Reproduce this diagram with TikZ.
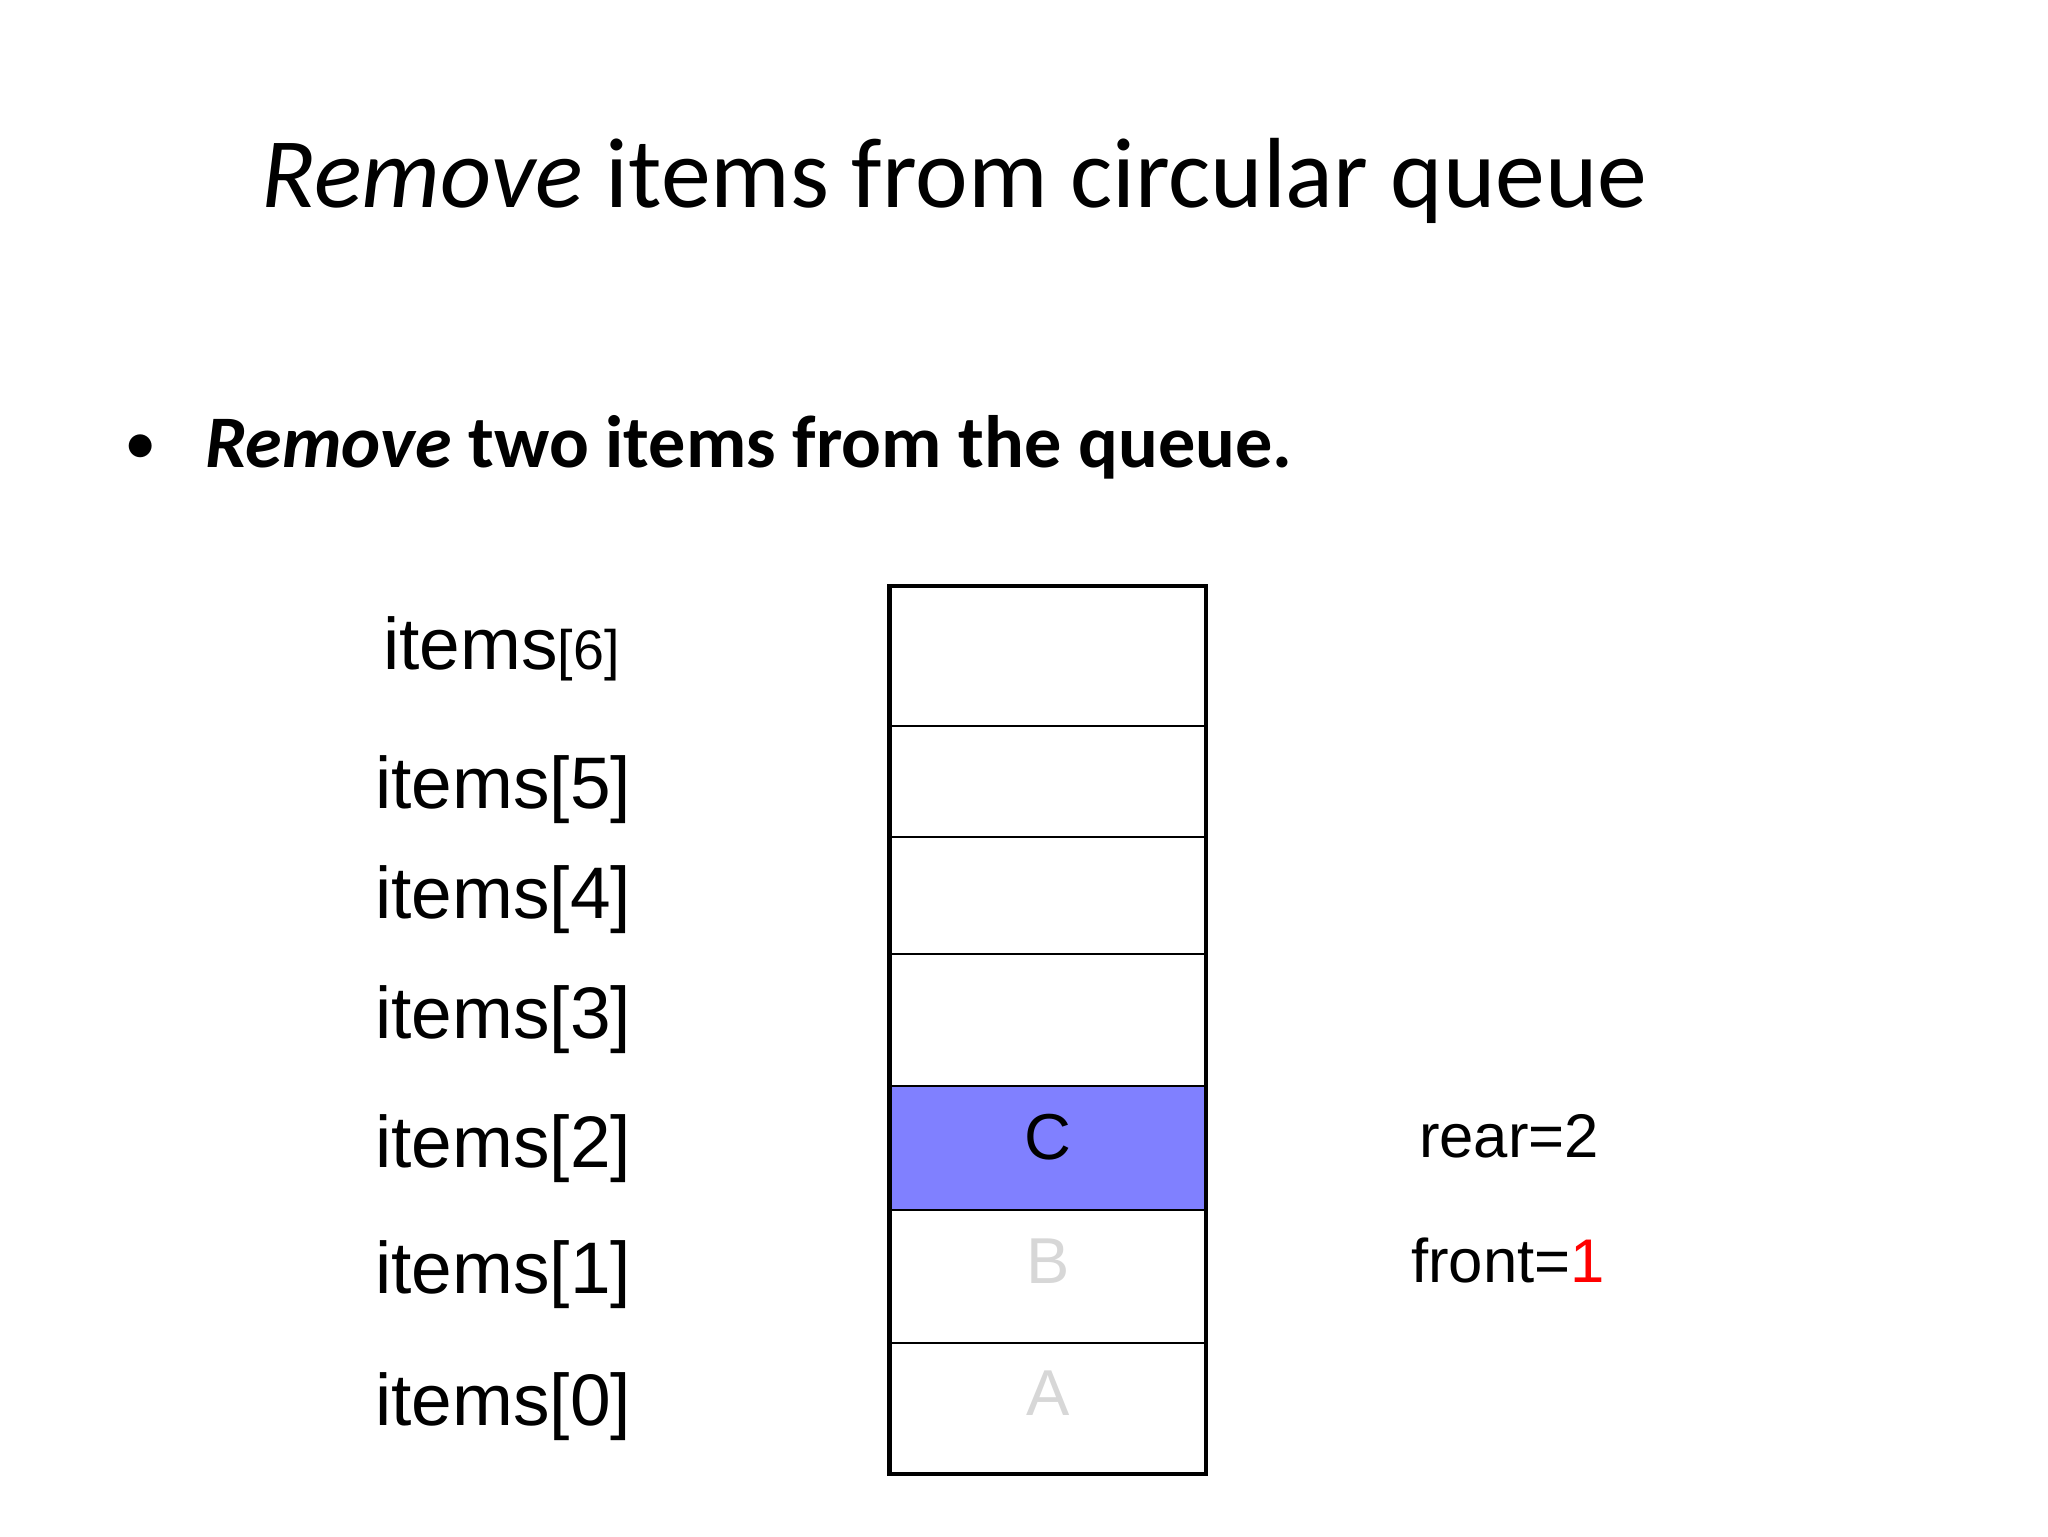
\documentclass[tikz,border=0pt]{standalone}
\usepackage{fontspec}
\setmainfont{Liberation Sans}
\newfontfamily\calfont{Carlito}
\begin{document}
\begin{tikzpicture}[x=0.02cm,y=-0.02cm,
  lab/.style={font=\fontsize{31.5}{36}\selectfont},
  cellt/.style={font=\fontsize{28}{32}\selectfont},
  side/.style={font=\fontsize{26.6}{30}\selectfont, anchor=base west}]
\useasboundingbox (0,0) rectangle (1552,1164);
\node[font=\calfont\fontsize{43}{50}\selectfont, anchor=base west, inner sep=0pt] (title) at (198,157) {\textit{Remove} items from circular queue};
\node[font=\calfont\fontsize{28}{32}\selectfont, anchor=base west, inner sep=0pt] (dot) at (94,352) {\textbullet};
\node[font=\calfont\fontsize{32}{38}\selectfont, anchor=base west, inner sep=0pt] (bul) at (155,354) {\textbf{\textit{Remove} two items from the queue.}};
\fill[fill={rgb,255:red,128;green,128;blue,255}] (674,823) rectangle (914,917);
\foreach \yy in {550,634,723,823,917,1018} \draw[line width=0.8pt] (674,\yy) -- (914,\yy);
\draw[line width=2pt] (674,444) rectangle (914,1117);
\node[cellt] (c) at (794,862) {C};
\node[cellt, text={rgb,255:red,215;green,215;blue,215}] (b) at (794,956) {B};
\node[cellt, text={rgb,255:red,215;green,215;blue,215}] (a) at (794,1056) {A};
\node[lab, anchor=base west, inner sep=0pt] (i6) at (290,507) {items\fontsize{24}{28}\selectfont[6]};
\node[lab, anchor=base west, inner sep=0pt] (i5) at (284,613) {items[5]};
\node[lab, anchor=base west, inner sep=0pt] (i4) at (284,696) {items[4]};
\node[lab, anchor=base west, inner sep=0pt] (i3) at (284,787) {items[3]};
\node[lab, anchor=base west, inner sep=0pt] (i2) at (284,885) {items[2]};
\node[lab, anchor=base west, inner sep=0pt] (i1) at (284,980) {items[1]};
\node[lab, anchor=base west, inner sep=0pt] (i0) at (284,1080) {items[0]};
\node[side, inner sep=0pt] (rear) at (1075,877) {rear=2};
\node[side, inner sep=0pt] (front) at (1069,972) {front=\textcolor{red}{1}};
\end{tikzpicture}
\end{document}
